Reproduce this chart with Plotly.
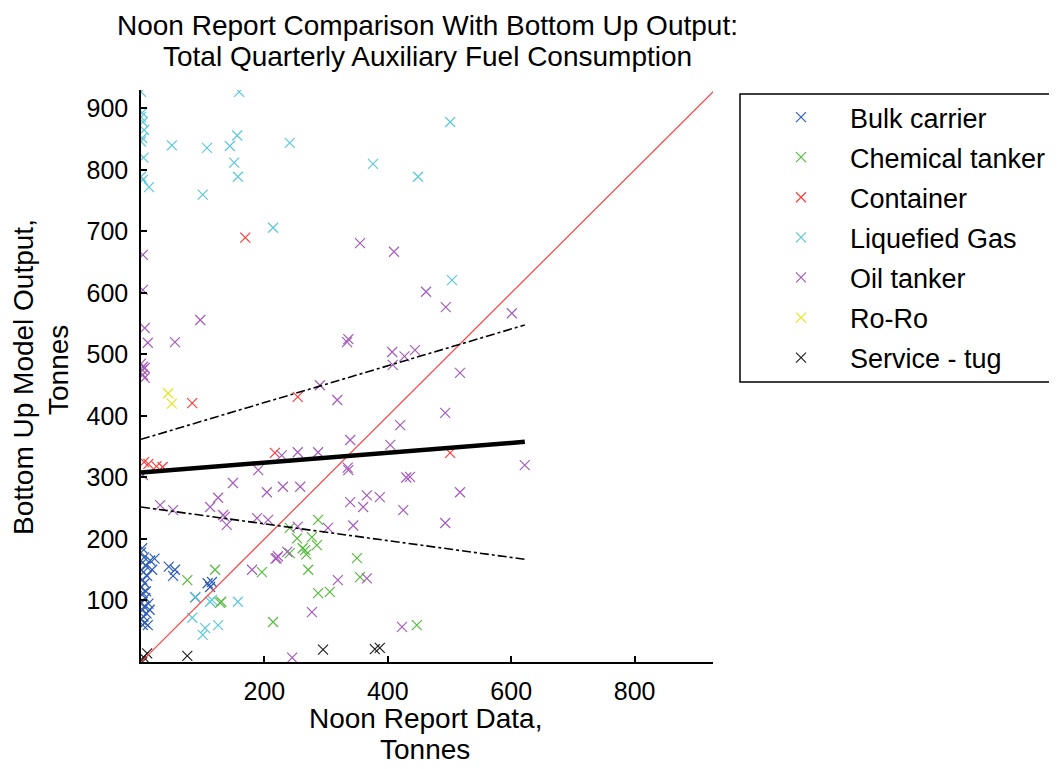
import plotly.graph_objects as go

# ---------------- data ----------------
bulk_x = [2, 0, 5, 3, 8, 0, 4, 10, 2, 6, 0, 3, 7, 1, 5, 2, 9, 4, 0, 6, 11, 15, 22, 18, 45, 55, 52, 88, 108, 115, 112, 12, 3, 8, 14]
bulk_y = [185, 178, 170, 162, 156, 150, 146, 140, 134, 128, 121, 112, 104, 96, 90, 84, 79, 74, 69, 64, 60, 165, 168, 150, 155, 150, 140, 105, 128, 130, 122, 95, 60, 115, 85]

chem_x = [287, 241, 253, 277, 285, 266, 241, 271, 196, 350, 355, 287, 306, 214, 447, 130, 120, 75, 128, 268, 262]
chem_y = [231, 218, 201, 203, 190, 182, 177, 150, 146, 169, 138, 112, 114, 65, 60, 98, 150, 133, 96, 175, 185]

cont_x = [169, 83, 254, 501, 217, 5, 12, 25, 35]
cont_y = [690, 421, 431, 340, 340, 325, 322, 318, 317]

lng_x = [0, 0, 3, 2, 0, 4, 0, 3, 13, 50, 107, 100, 144, 156, 151, 157, 159, 241, 214, 376, 449, 501, 504,
         88, 115, 83, 104, 125, 157, 112, 100, 5, 2]
lng_y = [927, 886, 878, 852, 846, 820, 789, 784, 772, 840, 836, 760, 839, 856, 812, 789, 927, 844, 706, 810, 789, 878, 621,
         106, 101, 72, 55, 60, 98, 98, 44, 865, 893]

oil_x = [3, 3, 6, 11, 55, 96, 0, 3, 6, 2, 3, 6, 3,
         318, 290, 420, 339, 404, 254, 287, 228, 190, 336, 436, 149, 204, 230, 258, 125, 112, 31, 52, 136, 139, 188, 206,
         339, 366, 360, 387, 425, 344, 254, 303, 220, 237, 180, 319, 366, 277, 423, 245,
         517, 493, 622, 517, 493,
         355, 410, 462, 494, 601, 334, 336, 407, 444, 427, 408, 133, 430, 335, 218, 222]
oil_y = [662, 605, 543, 519, 520, 556, 485, 480, 478, 475, 467, 462, 304,
         426, 450, 385, 361, 353, 341, 341, 336, 312, 312, 301, 291, 276, 285, 285, 267, 252, 255, 247, 236, 223, 234, 231,
         260, 271, 252, 268, 247, 222, 220, 218, 169, 179, 150, 133, 136, 81, 57, 7,
         470, 405, 320, 276, 226,
         681, 667, 602, 577, 567, 520, 525, 504, 507, 497, 483, 239, 300, 316, 168, 172]

roro_x = [44, 50]
roro_y = [437, 420]

tug_x = [0, 4, 10, 75, 295, 379, 387, 2]
tug_y = [2, 8, 14, 10, 20, 21, 23, 0]

series_names = ["Bulk carrier", "Chemical tanker", "Container", "Liquefied Gas",
                "Oil tanker", "Ro-Ro", "Service - tug"]

# fitted line and bounds (endpoints)
fit_x = [0, 622]
fit_y = [308, 358]
upper_y = [362, 548]
lower_y = [252, 167]
identity = [0, 930]

x_ticks = [200, 400, 600, 800]
y_ticks = [100, 200, 300, 400, 500, 600, 700, 800, 900]

title_lines = ["Noon Report Comparison With Bottom Up Output:",
               "Total Quarterly Auxiliary Fuel Consumption"]
xtitle_lines = ["Noon Report Data,", "Tonnes"]
ytitle_lines = ["Bottom Up Model Output,", "Tonnes"]

# ---------------- styling ----------------
colors = ["#2f5fb5", "#55bb3c", "#ff3c3c", "#5cc8dc", "#a55cbb", "#e6e61e", "#222222"]
FONT = "Liberation Sans, Arial, sans-serif"

# the page body has an 8px margin; work in window pixels and convert
OFF = 8
PX0, PX1 = 141, 713   # plot area left/right in window px
PY0, PY1 = 90, 662    # plot area top/bottom in window px
PW = PX1 - PX0
PH = PY1 - PY0


def px(xw):
    return (xw - PX0) / PW


def py(yw):
    return (PY1 - yw) / PH


fig = go.Figure()

series = [(bulk_x, bulk_y), (chem_x, chem_y), (cont_x, cont_y), (lng_x, lng_y),
          (oil_x, oil_y), (roro_x, roro_y), (tug_x, tug_y)]
for i, ((xs, ys), name) in enumerate(zip(series, series_names)):
    fig.add_trace(go.Scatter(
        x=xs, y=ys, mode="markers", name=name, legendgroup=name,
        marker=dict(symbol="x-thin-open", size=10, color=colors[i],
                    line=dict(width=1.2, color=colors[i])),
    ))

fig.add_trace(go.Scatter(x=identity, y=identity, mode="lines", showlegend=False,
                         line=dict(color="#ff4040", width=1.2)))
fig.add_trace(go.Scatter(x=fit_x, y=upper_y, mode="lines", showlegend=False,
                         line=dict(color="black", width=1.6, dash="dashdot")))
fig.add_trace(go.Scatter(x=fit_x, y=lower_y, mode="lines", showlegend=False,
                         line=dict(color="black", width=1.6, dash="dashdot")))
fig.add_trace(go.Scatter(x=fit_x, y=fit_y, mode="lines", showlegend=False,
                         line=dict(color="black", width=4.5)))

axis_common = dict(
    showgrid=False, zeroline=False, showline=True, linecolor="black", linewidth=1.5,
    ticks="inside", ticklen=6, tickwidth=1.5, tickcolor="black", mirror=False,
    tickfont=dict(family=FONT, size=25, color="black"), ticklabelstandoff=6,
)

W, H = 1057 - OFF, 769 - OFF
annotations = []
for line, yc in zip(title_lines, [25, 57]):
    annotations.append(dict(text=line, xref="paper", yref="paper", x=px(427), y=py(yc),
                            xanchor="center", yanchor="middle", showarrow=False,
                            font=dict(family=FONT, size=28, color="black")))
for line, yc in zip(xtitle_lines, [718, 750]):
    annotations.append(dict(text=line, xref="paper", yref="paper", x=px(425), y=py(yc),
                            xanchor="center", yanchor="middle", showarrow=False,
                            font=dict(family=FONT, size=28, color="black")))
for line, (xc, yc) in zip(ytitle_lines, [(23, 377), (58, 370)]):
    annotations.append(dict(text=line, textangle=-90, xref="paper", yref="paper", x=px(xc), y=py(yc),
                            xanchor="center", yanchor="middle", showarrow=False,
                            font=dict(family=FONT, size=28, color="black")))

fig.update_layout(
    width=W, height=H,
    paper_bgcolor="white", plot_bgcolor="white",
    margin=dict(l=PX0 - OFF, r=W - (PX1 - OFF), t=PY0 - OFF, b=H - (PY1 - OFF), autoexpand=False),
    font=dict(family=FONT, size=24, color="black"),
    xaxis=dict(range=[0, 927], tickvals=x_ticks, **axis_common),
    yaxis=dict(range=[0, 930], tickvals=y_ticks, **axis_common),
    showlegend=True,
    legend=dict(
        x=px(752), y=py(93), xanchor="left", yanchor="top",
        bgcolor="rgba(0,0,0,0)", borderwidth=0,
        font=dict(family=FONT, size=27, color="black"),
        tracegroupgap=2, itemwidth=88,
    ),
    annotations=annotations,
    shapes=[
        dict(type="rect", xref="paper", yref="paper",
             x0=px(740), x1=px(1080), y0=py(382), y1=py(94),
             line=dict(color="black", width=1.5), fillcolor="rgba(0,0,0,0)"),
    ],
)

fig.write_html("out.html")
